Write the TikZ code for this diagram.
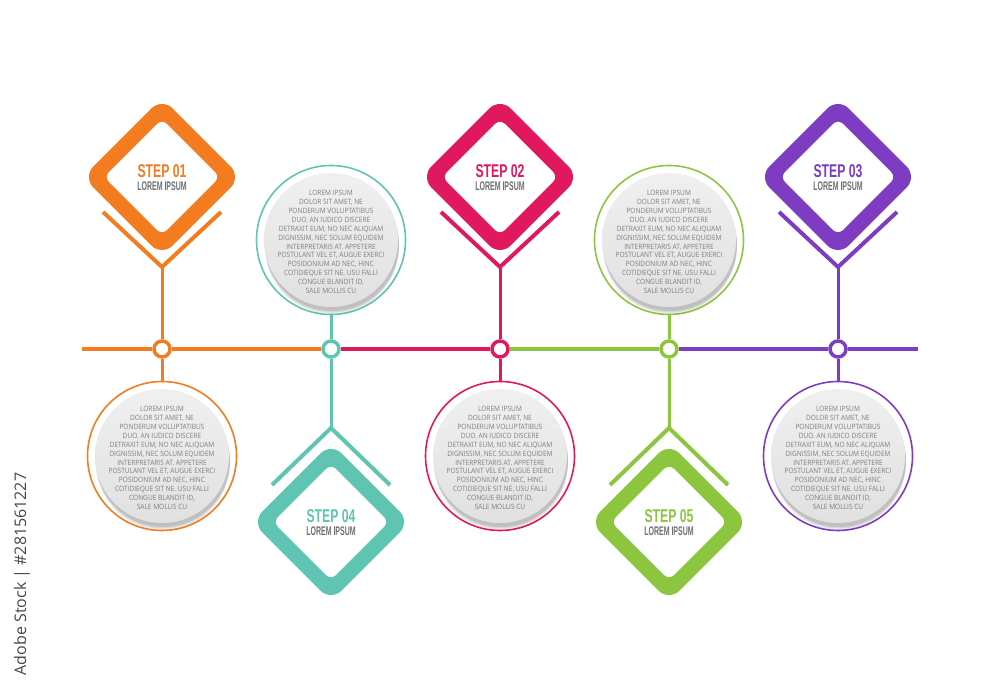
\documentclass[tikz,border=0pt]{standalone}
\usepackage{fontspec}
\usetikzlibrary{calc,backgrounds}

\newfontfamily\stepfont{Liberation Sans}[FakeStretch=0.66]
\newfontfamily\lblfont{Liberation Sans}[FakeStretch=0.56]
\newfontfamily\bodyfont{Open Sans}[FakeStretch=0.9]
\newfontfamily\markfont{Open Sans}

\definecolor{orng}{HTML}{F47C20}
\definecolor{tealc}{HTML}{5FC5B2}
\definecolor{rose}{HTML}{E0195F}
\definecolor{lime}{HTML}{8CC63F}
\definecolor{plum}{HTML}{7D3CC2}
\definecolor{labelgray}{HTML}{6D6E71}

\newcommand\steplabel[1]{{\fontsize{18.5}{13}\selectfont #1}\\{\lblfont\bfseries\fontsize{12.5}{13}\selectfont\color{labelgray}LOREM IPSUM}}
\newcommand\bodycopy{LOREM IPSUM\\DOLOR SIT AMET, NE\\PONDERUM VOLUPTATIBUS\\DUO. AN IUDICO DISCERE\\DETRAXIT EUM, NO NEC ALIQUAM\\DIGNISSIM, NEC SOLUM EQUIDEM\\INTERPRETARIS AT. APPETERE\\POSTULANT VEL ET, AUGUE EXERCI\\POSIDONIUM AD NEC, HINC\\COTIDIEQUE SIT NE. USU FALLI\\CONGUE BLANDIT ID,\\SALE MOLLIS CU}
\newcommand\textdisk[2]{%
	\foreach \k/\op in {7/.07,5.5/.09,4/.11}{\fill[black, opacity=\op] ($(#2)+(1,-\k)$) circle (67);}
	\node[disk] (#1) at (#2) {};
	\node[bodytxt] (#1txt) at ($(#2)+(0,-2)$) {\bodycopy};}

\tikzset{
	diam/.style={fill=#1, rounded corners=15pt, rotate=45, minimum size=112pt, inner sep=0pt},
	hole/.style={fill=white, rounded corners=7pt, rotate=45, minimum size=82pt, inner sep=0pt},
	joint/.style={circle, draw=#1, fill=white, line width=3.5pt, minimum size=16pt, inner sep=0pt},
	ring/.style={circle, draw=#1, line width=1.6pt, minimum size=149pt, inner sep=0pt},
	disk/.style={circle, top color=black!6, bottom color=black!12, minimum size=134pt, inner sep=0pt},
	chev/.style={draw=#1, line width=4pt},
	link/.style={draw=#1, line width=3pt},
	rail/.style={draw=#1, line width=4pt},
	steptxt/.style={text=#1, align=center, inner sep=0pt, font=\stepfont\bfseries\fontsize{11}{13}\selectfont},
	bodytxt/.style={text=black!50, align=center, inner sep=0pt, font=\bodyfont\fontsize{7.3}{8.9}\selectfont}
}

\begin{document}
\begin{tikzpicture}[x=1pt, y=1pt]
	%%%%% START %%%%%
	\useasboundingbox (0,0) rectangle (1000,700);

	% rail joints
	\node[joint=orng] (j1) at (162,351) {};
	\node[joint=tealc] (j2) at (331,351) {};
	\node[joint=rose] (j3) at (500,351) {};
	\node[joint=lime] (j4) at (669,351) {};
	\node[joint=plum] (j5) at (838,351) {};
	\coordinate (railL) at (82,351);
	\coordinate (railR) at (918,351);

	% step diamonds above the rail
	\node[diam=orng] (s1) at (162,523) {};
	\node[hole] (h1) at (s1) {};
	\node[steptxt=orng] (t1) at ($(s1)+(0,-1)$) {\steplabel{STEP 01}};
	\node[diam=rose] (s2) at (500,523) {};
	\node[hole] (h2) at (s2) {};
	\node[steptxt=rose] (t2) at ($(s2)+(0,-1)$) {\steplabel{STEP 02}};
	\node[diam=plum] (s3) at (838,523) {};
	\node[hole] (h3) at (s3) {};
	\node[steptxt=plum] (t3) at ($(s3)+(0,-1)$) {\steplabel{STEP 03}};

	% step diamonds below the rail
	\node[diam=tealc] (s4) at (331,178) {};
	\node[hole] (h4) at (s4) {};
	\node[steptxt=tealc] (t4) at ($(s4)+(0,-1)$) {\steplabel{STEP 04}};
	\node[diam=lime] (s5) at (669,178) {};
	\node[hole] (h5) at (s5) {};
	\node[steptxt=lime] (t5) at ($(s5)+(0,-1)$) {\steplabel{STEP 05}};

	% chevrons
	\coordinate (v1) at ($(s1)+(0,-90)$);
	\coordinate (v2) at ($(s2)+(0,-90)$);
	\coordinate (v3) at ($(s3)+(0,-90)$);
	\coordinate (v4) at ($(s4)+(0,94)$);
	\coordinate (v5) at ($(s5)+(0,94)$);
	\draw[chev=orng] ($(s1)+(-59,-35)$) -- (v1) -- ($(s1)+(59,-35)$);
	\draw[chev=rose] ($(s2)+(-59,-35)$) -- (v2) -- ($(s2)+(59,-35)$);
	\draw[chev=plum] ($(s3)+(-59,-35)$) -- (v3) -- ($(s3)+(59,-35)$);
	\draw[chev=tealc] ($(s4)+(-59,37)$) -- (v4) -- ($(s4)+(59,37)$);
	\draw[chev=lime] ($(s5)+(-59,37)$) -- (v5) -- ($(s5)+(59,37)$);

	% text circles
	\node[ring=orng] (c1) at (162,244) {};
	\textdisk{g1}{c1}
	\node[ring=tealc] (c2) at (331,460) {};
	\textdisk{g2}{c2}
	\node[ring=rose] (c3) at (500,244) {};
	\textdisk{g3}{c3}
	\node[ring=lime] (c4) at (669,460) {};
	\textdisk{g4}{c4}
	\node[ring=plum] (c5) at (838,244) {};
	\textdisk{g5}{c5}

	% connectors
	\begin{scope}[on background layer]
		\draw[rail=orng] (railL) -- (j1) -- (j2);
		\draw[rail=rose] (j2) -- (j3);
		\draw[rail=lime] (j3) -- (j4);
		\draw[rail=plum] (j4) -- (j5) -- (railR);

		\draw[link=orng] (v1) -- (j1) -- (c1);
		\draw[link=tealc] (c2) -- (j2) -- (v4);
		\draw[link=rose] (v2) -- (j3) -- (c3);
		\draw[link=lime] (c4) -- (j4) -- (v5);
		\draw[link=plum] (v3) -- (j5) -- (c5);
	\end{scope}

	\node[rotate=90, text=black!72, font=\markfont\fontsize{16}{18}\selectfont] (stock) at (22,126) {Adobe Stock | \#281561227};

	%%%%% END %%%%%
\end{tikzpicture}
\end{document}
